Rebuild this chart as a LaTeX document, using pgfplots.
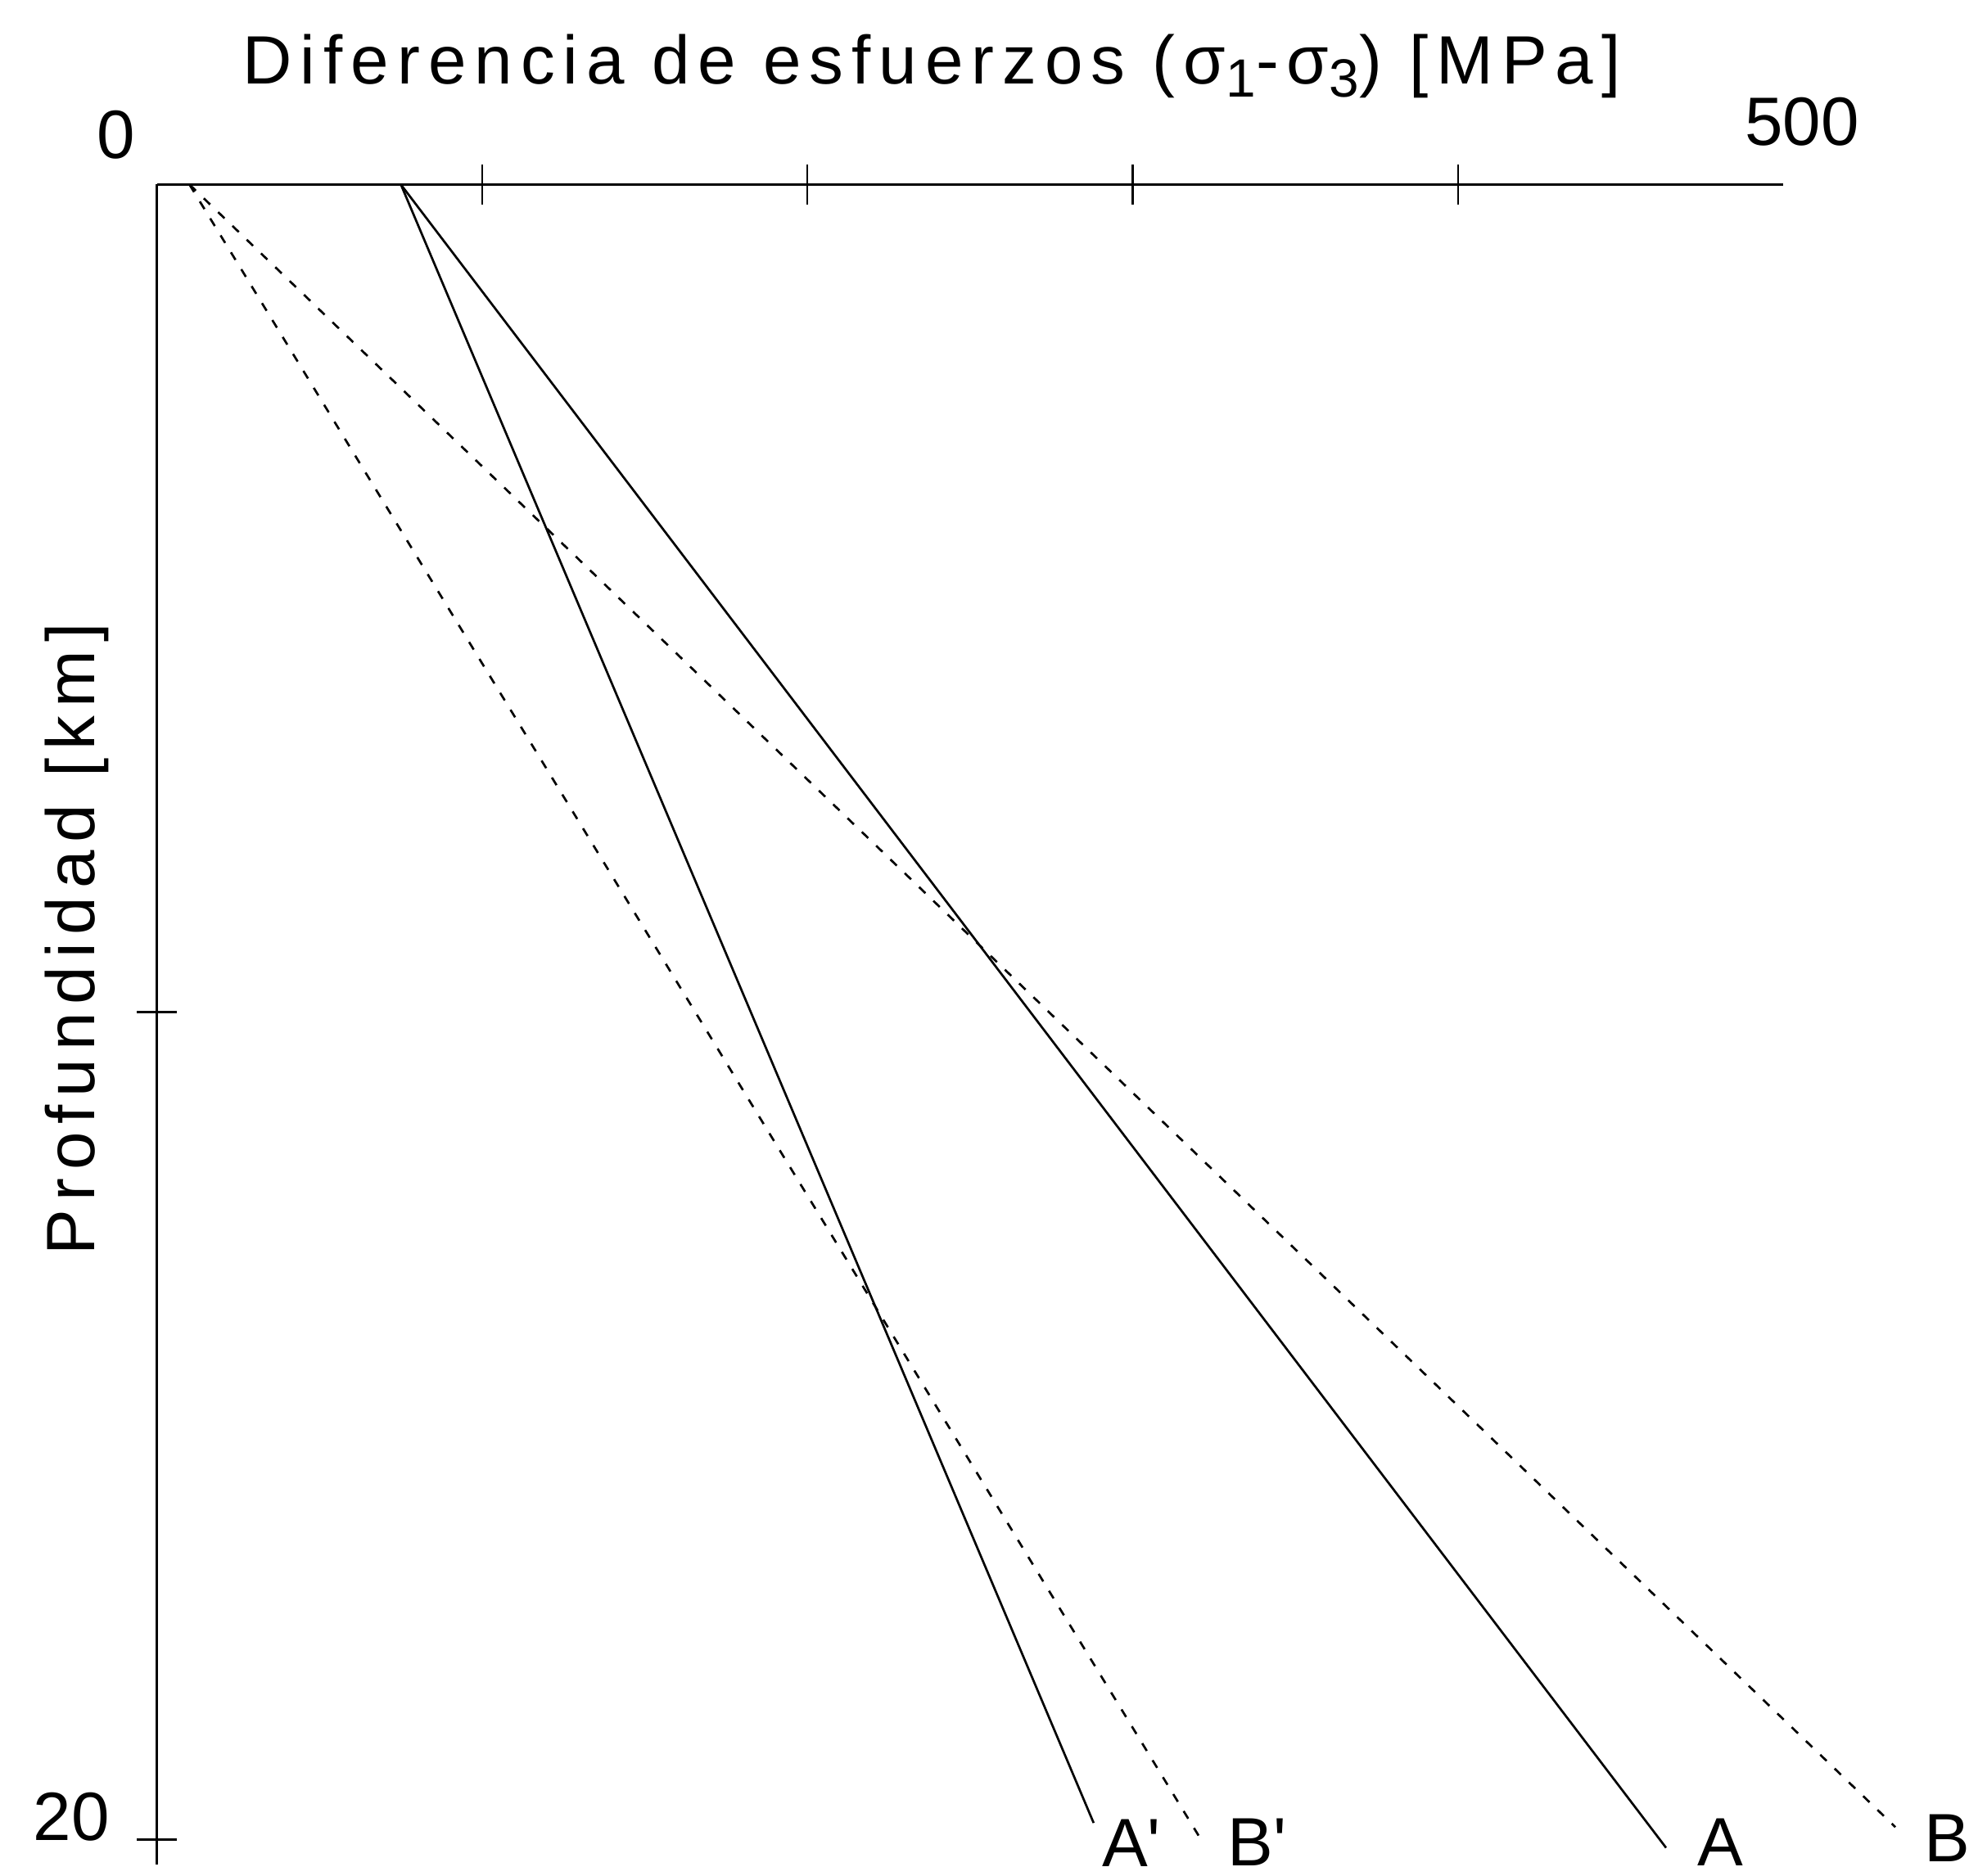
\documentclass[border=0pt]{standalone}
\usepackage{pgfplots}
\pgfplotsset{compat=1.18}
\usepackage{fontspec}
\setmainfont{Liberation Sans}
\newfontfamily\spaced[LetterSpace=12]{Liberation Sans}
\newcommand{\sub}[1]{\raisebox{-2.9pt}{\fontsize{12.2}{12.2}\selectfont #1}}
\begin{document}
\begin{tikzpicture}[x=1cm,y=1cm]
\useasboundingbox (0,0) rectangle (15.68,14.94);
\begin{axis}[
  at={(1.25cm,0.09cm)}, anchor=south west,
  scale only axis, width=12.95cm, height=13.38cm,
  xmin=0, xmax=500, ymin=0, ymax=20.3, y dir=reverse,
  axis x line*=top, axis y line*=left,
  axis line style={-, line width=0.55pt, black},
  xtick={100,200,300,400}, ytick={10,20},
  xticklabels={}, yticklabels={},
  tick align=center, major tick length=0.32cm,
  tick style={line width=0.45pt, black},
  clip=false,
]
\addplot[black, line width=0.5pt] coordinates {(75,0) (464,20.1)};
\addplot[black, line width=0.5pt] coordinates {(75,0) (288,19.8)};
\addplot[black, line width=0.5pt, dash pattern=on 2pt off 2.5pt] coordinates {(10,0) (534.5,19.85)};
\addplot[black, line width=0.5pt, dash pattern=on 2pt off 2.5pt] coordinates {(10,0) (321,20)};
\end{axis}
\node[anchor=base, inner sep=0pt, font=\fontsize{15.5}{16}\selectfont\spaced] at (7.42,14.27) {Diferencia de esfuerzos (σ\sub{1}-σ\sub{3}) [MPa]};
\node[anchor=base, inner sep=0pt, rotate=90, font=\fontsize{15.5}{16}\selectfont\spaced] at (0.75,7.46) {Profundidad [km]};
\node[anchor=base, inner sep=0pt, font=\fontsize{15.5}{16}\selectfont] at (0.925,13.68) {0};
\node[anchor=base, inner sep=0pt, font=\fontsize{15.5}{16}\selectfont] at (14.35,13.78) {500};
\node[anchor=base, inner sep=0pt, font=\fontsize{15.5}{16}\selectfont] at (0.57,0.28) {20};
\node[anchor=base west, inner sep=0pt, font=\fontsize{15.5}{16}\selectfont] at (8.77,0.07) {A\textquotesingle};
\node[anchor=base west, inner sep=0pt, font=\fontsize{15.5}{16}\selectfont] at (9.77,0.08) {B\textquotesingle};
\node[anchor=base west, inner sep=0pt, font=\fontsize{15.5}{16}\selectfont] at (13.51,0.08) {A};
\node[anchor=base west, inner sep=0pt, font=\fontsize{15.5}{16}\selectfont] at (15.32,0.11) {B};
\end{tikzpicture}
\end{document}
